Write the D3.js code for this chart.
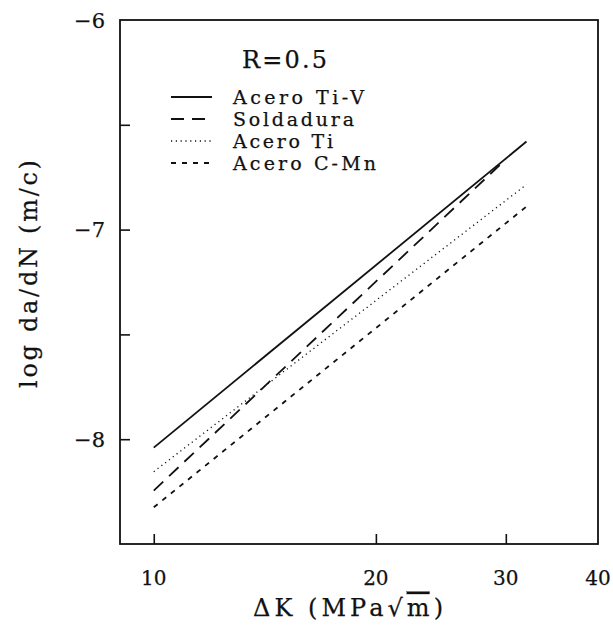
<!DOCTYPE html>
<html>
<head>
<meta charset="utf-8">
<script src="https://cdn.jsdelivr.net/npm/d3@7/dist/d3.min.js"></script>
<style>
  html, body { margin: 0; padding: 0; background: #fff; }
  svg { display: block; }
  text { font-family: "DejaVu Serif", "Liberation Serif", serif; fill: #111; stroke: #111; stroke-width: 0.25px; }
</style>
</head>
<body>
<svg id="chart" width="613" height="628"></svg>
<script>
// ---- data ----
const xDomain = [9, 40];
const yDomain = [-8.5, -6];
const xTicks = [10, 20, 30, 40];
const xTickMarks = [10, 20, 30];
const yTicks = [-6.5, -7, -7.5, -8];
const yTickLabels = [-6, -7, -8];
const seriesNames = ["Acero Ti-V", "Soldadura", "Acero Ti", "Acero C-Mn"];
const tiV = [[10, -8.04], [32, -6.58]];
const soldadura = [[10, -8.245], [30, -6.665]];
const aceroTi = [[10, -8.155], [32, -6.785]];
const aceroCMn = [[10, -8.325], [32, -6.89]];
const seriesData = [tiV, soldadura, aceroTi, aceroCMn];
const title = "R=0.5";

// ---- styles ----
const styles = [
  { dash: null, width: 1.8, cap: "butt" },
  { dash: "13,8", width: 1.8, cap: "butt" },
  { dash: "1.2,3.6", width: 1.3, cap: "butt" },
  { dash: "5,6", width: 1.8, cap: "butt" }
];
const legendText = [
  { len: 131 }, { len: 121 }, { len: 100 }, { len: 143 }
];

const svg = d3.select("#chart");
const mL = 120, mR = 598, mT = 20, mB = 544;
const x = d3.scaleLog().domain(xDomain).range([mL, mR]);
const y = d3.scaleLinear().domain(yDomain).range([mB, mT]);

// frame
svg.append("rect")
  .attr("x", mL).attr("y", mT)
  .attr("width", mR - mL).attr("height", mB - mT)
  .attr("fill", "none").attr("stroke", "#111").attr("stroke-width", 1.8);

// y axis ticks (inward)
const yAxis = d3.axisRight(y).tickValues(yTicks).tickSize(10).tickFormat("");
const gy = svg.append("g").attr("transform", `translate(${mL},0)`).call(yAxis);
gy.select(".domain").remove();
gy.selectAll("line").attr("stroke", "#111").attr("stroke-width", 1.6);

// y tick labels
svg.append("g").selectAll("text").data(yTickLabels).join("text")
  .attr("x", 105).attr("y", d => y(d)).attr("dy", "0.36em")
  .attr("text-anchor", "end").attr("font-size", 21)
  .text(d => "\u2212" + Math.abs(d));

// x axis ticks (inward)
const xAxis = d3.axisTop(x).tickValues(xTickMarks).tickSize(10).tickFormat("");
const gx = svg.append("g").attr("transform", `translate(0,${mB})`).call(xAxis);
gx.select(".domain").remove();
gx.selectAll("line").attr("stroke", "#111").attr("stroke-width", 1.6);

// x tick labels
svg.append("g").selectAll("text").data(xTicks).join("text")
  .attr("x", d => x(d)).attr("y", 578).attr("dy", "0.36em")
  .attr("text-anchor", "middle").attr("font-size", 20)
  .text(d => d);

// lines
const line = d3.line().x(d => x(d[0])).y(d => y(d[1]));
svg.append("g").selectAll("path").data(seriesData).join("path")
  .attr("d", line)
  .attr("fill", "none")
  .attr("stroke", "#111")
  .attr("stroke-width", (d, i) => styles[i].width)
  .attr("stroke-dasharray", (d, i) => styles[i].dash)
  .attr("stroke-linecap", (d, i) => styles[i].cap);

// title
svg.append("text").attr("x", 242).attr("y", 59).attr("dy", "0.36em")
  .attr("font-size", 24).attr("textLength", 85).attr("lengthAdjust", "spacing")
  .text(title);

// legend
const legY = d3.scalePoint().domain(seriesNames).range([97, 163]);
const leg = svg.append("g");
seriesNames.forEach((name, i) => {
  leg.append("line")
    .attr("x1", 171).attr("x2", 212)
    .attr("y1", legY(name)).attr("y2", legY(name))
    .attr("stroke", "#111")
    .attr("stroke-width", styles[i].width)
    .attr("stroke-dasharray", styles[i].dash);
  leg.append("text")
    .attr("x", 233).attr("y", legY(name)).attr("dy", "0.36em")
    .attr("font-size", 19)
    .attr("textLength", legendText[i].len).attr("lengthAdjust", "spacing")
    .text(name);
});

// axis titles
const xt = svg.append("text").attr("x", 253).attr("y", 607).attr("dy", "0.36em")
  .attr("font-size", 24).attr("textLength", 190).attr("lengthAdjust", "spacing");
xt.append("tspan").text("\u0394K (MPa\u221A");
xt.append("tspan").style("text-decoration", "overline").text("m");
xt.append("tspan").text(")");

svg.append("text")
  .attr("transform", "translate(28,274) rotate(-90)")
  .attr("text-anchor", "middle").attr("dy", "0.36em")
  .attr("font-size", 24).attr("textLength", 228).attr("lengthAdjust", "spacing")
  .text("log da/dN (m/c)");
</script>
</body>
</html>
